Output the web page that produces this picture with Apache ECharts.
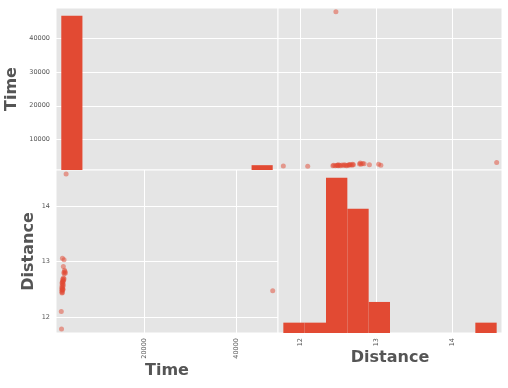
<!DOCTYPE html>
<html><head><meta charset="utf-8">
<script src="https://cdn.jsdelivr.net/npm/echarts@6/dist/echarts.min.js"></script>
<style>html,body{margin:0;padding:0;background:#fff}#c{width:508px;height:388px}</style>
</head><body><div id="c"></div>
<script>
// Paired observations (Time, Distance)
const timeVals = [2050, 2000, 2150, 2250, 2100, 48000, 2200, 2300, 2150, 2400, 2250, 2100, 2350, 2200, 2450, 2300, 2150,
                  2250, 2400, 2350, 2500, 2300, 2600, 2450, 2650, 2900, 2550, 2800, 2700, 2450, 2600, 2250, 3050];
const distVals = [11.78, 12.10, 12.43, 12.44, 12.46, 12.47, 12.48, 12.49, 12.50, 12.50, 12.52, 12.53, 12.55, 12.57, 12.58, 12.60, 12.61,
                  12.63, 12.64, 12.65, 12.66, 12.68, 12.69, 12.70, 12.78, 12.79, 12.80, 12.82, 12.84, 12.91, 13.03, 13.06, 14.58];
// Histogram counts (10 bins each)
const timeCounts = [32, 0, 0, 0, 0, 0, 0, 0, 0, 1];
const distCounts = [1, 1, 15, 12, 3, 0, 0, 0, 0, 1];
// Tick labels
const timeTicks = [10000, 20000, 30000, 40000];
const timeXTicks = [20000, 40000];
const distTicks = [12, 13, 14];

function lims(a){const mn=Math.min(...a),mx=Math.max(...a);const e=(mx-mn)*0.025;return [mn-e,mx+e];}
function edges(a){const mn=Math.min(...a),mx=Math.max(...a);const w=(mx-mn)/10;return Array.from({length:11},(_,i)=>mn+i*w);}
const tL = lims(timeVals), dL = lims(distVals);
const tE = edges(timeVals), dE = edges(distVals);
const timeHist = timeCounts.map((c,i)=>[tE[i],tE[i+1],c]);
const distHist = distCounts.map((c,i)=>[dE[i],dE[i+1],c]);
const pts = timeVals.map((t,i)=>[t,distVals[i]]);
const ptsRev = timeVals.map((t,i)=>[distVals[i],t]);

const RED = '#E24A33';
const FONT = 'DejaVu Sans';
const fmt = v => String(Math.round(v));
const lbl = {color:'#555', fontSize:6.5, fontFamily:FONT, formatter:fmt};
const nameStyle = {color:'#555', fontSize:16, fontWeight:'bold', fontFamily:FONT};
const split = {show:true, lineStyle:{color:'#fff', width:1}};
const noSplit = {show:false};

function barItem(params, api){
  const p0 = api.coord([api.value(0), api.value(2)]);
  const p1 = api.coord([api.value(1), 0]);
  return {type:'rect', shape:{x:p0[0], y:p0[1], width:p1[0]-p0[0], height:p1[1]-p0[1]}, style:{fill:RED}};
}
function ax(o){
  return Object.assign({type:'value', scale:true, axisLine:{show:false}, axisTick:{show:false},
    axisLabel:{show:false}, splitLine:noSplit}, o);
}
const gridBase = {show:true, backgroundColor:'#E5E5E5', borderColor:'#fff', borderWidth:1};
const chart = echarts.init(document.getElementById('c'));
chart.setOption({
  animation:false,
  grid:[
    Object.assign({left:56, top:8, width:222, height:162}, gridBase),
    Object.assign({left:278, top:8, width:224, height:162}, gridBase),
    Object.assign({left:56, top:170, width:222, height:163}, gridBase),
    Object.assign({left:278, top:170, width:224, height:163}, gridBase)
  ],
  xAxis:[
    ax({gridIndex:0, min:tL[0], max:tL[1]}),
    ax({gridIndex:1, min:dL[0], max:dL[1], axisTick:{show:false, customValues:distTicks}, splitLine:split}),
    ax({gridIndex:2, min:tL[0], max:tL[1], axisTick:{show:false, customValues:timeXTicks}, splitLine:split,
        axisLabel:Object.assign({show:true, rotate:90, margin:5, customValues:timeXTicks}, lbl),
        name:'Time', nameLocation:'middle', nameGap:26, nameTextStyle:nameStyle}),
    ax({gridIndex:3, min:dL[0], max:dL[1], axisTick:{show:false, customValues:distTicks}, splitLine:split,
        axisLabel:Object.assign({show:true, rotate:90, margin:5, customValues:distTicks}, lbl),
        name:'Distance', nameLocation:'middle', nameGap:15, nameTextStyle:nameStyle})
  ],
  yAxis:[
    ax({gridIndex:0, min:0, max:Math.max(...timeCounts)*1.05, show:false, position:'right'}),
    ax({gridIndex:0, position:'left', min:tL[0], max:tL[1], axisTick:{show:false, customValues:timeTicks}, splitLine:split,
        axisLabel:Object.assign({show:true, margin:6, customValues:timeTicks}, lbl),
        name:'Time', nameLocation:'middle', nameGap:36, nameTextStyle:nameStyle}),
    ax({gridIndex:1, min:tL[0], max:tL[1], axisTick:{show:false, customValues:timeTicks}, splitLine:split}),
    ax({gridIndex:2, min:dL[0], max:dL[1], axisTick:{show:false, customValues:distTicks}, splitLine:split,
        axisLabel:Object.assign({show:true, margin:6, customValues:distTicks}, lbl),
        name:'Distance', nameLocation:'middle', nameGap:19, nameTextStyle:nameStyle}),
    ax({gridIndex:3, min:0, max:Math.max(...distCounts)*1.05, show:false})
  ],
  series:[
    {type:'custom', xAxisIndex:0, yAxisIndex:0, renderItem:barItem, data:timeHist, clip:true},
    {type:'scatter', xAxisIndex:1, yAxisIndex:2, data:ptsRev, symbolSize:5, itemStyle:{color:RED, opacity:0.5}},
    {type:'scatter', xAxisIndex:2, yAxisIndex:3, data:pts, symbolSize:5, itemStyle:{color:RED, opacity:0.5}},
    {type:'custom', xAxisIndex:3, yAxisIndex:4, renderItem:barItem, data:distHist, clip:true}
  ]
});
</script></body></html>
